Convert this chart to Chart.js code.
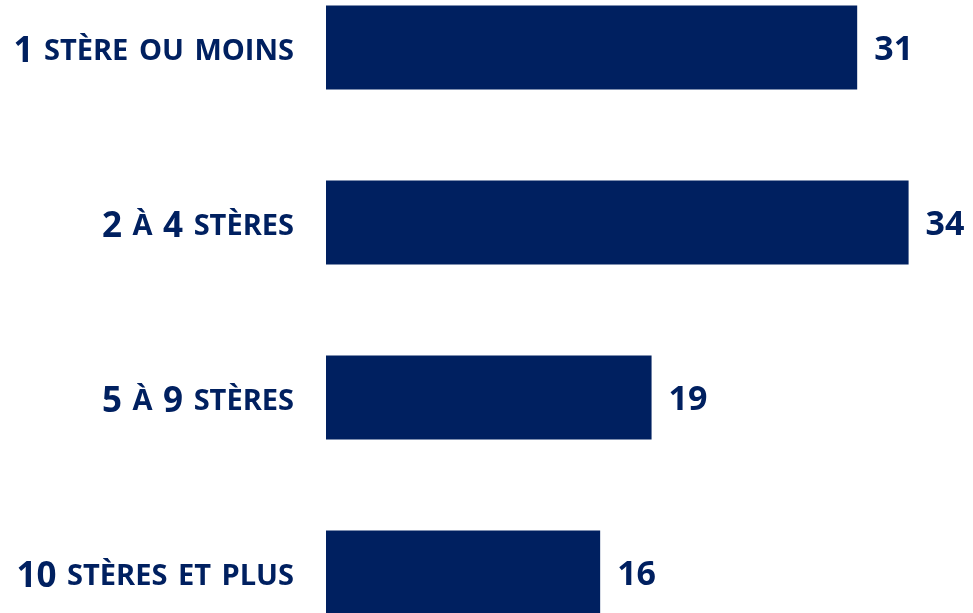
<!DOCTYPE html>
<html lang="fr">
<head>
<meta charset="utf-8">
<title>Volume de bois</title>
<script src="https://cdn.jsdelivr.net/npm/chart.js@4.4.1/dist/chart.umd.min.js"></script>
<style>
    html, body { margin: 0; padding: 0; background: #ffffff; }
    #frame { position: relative; width: 973px; height: 613px; overflow: hidden; }
    #wrap { position: absolute; left: 0; top: -40px; width: 973px; height: 700px; }
</style>
</head>
<body>
<div id="frame"><div id="wrap"><canvas id="volumeChart"></canvas></div></div>
<script>
const categories = ['1 STÈRE OU MOINS', '2 À 4 STÈRES', '5 À 9 STÈRES', '10 STÈRES ET PLUS'];
const values = [31, 34, 19, 16];

const navy = '#002060';
const fontFamily = '"Open Sans", "Noto Sans", sans-serif';

// cap height of Open Sans, used to center caps/digits on the bar
const capRatio = 0.714;

// left labels: numbers big, words small, right aligned before the bars
const categoryLabels = {
    id: 'categoryLabels',
    afterDraw(chart) {
        const ctx = chart.ctx;
        const yScale = chart.scales.y;
        const right = chart.chartArea.left - 32;
        ctx.save();
        ctx.fillStyle = navy;
        ctx.textAlign = 'left';
        ctx.textBaseline = 'alphabetic';
        ctx.font = 'bold 29px ' + fontFamily;
        const gap = ctx.measureText(' ').width + 3;
        chart.data.labels.forEach((label, i) => {
            const cy = yScale.getPixelForTick(i) + 2;
            const parts = label.split(' ').map(word => {
                const size = /^\d+$/.test(word) ? 35 : 29;
                ctx.font = 'bold ' + size + 'px ' + fontFamily;
                return { word: word, size: size, width: ctx.measureText(word).width };
            });
            let total = parts.reduce((sum, p) => sum + p.width, 0) + gap * (parts.length - 1);
            let x = right - total;
            parts.forEach(p => {
                ctx.font = 'bold ' + p.size + 'px ' + fontFamily;
                ctx.fillText(p.word, x, cy + p.size * capRatio / 2);
                x += p.width + gap;
            });
        });
        ctx.restore();
    }
};

// value shown just after the end of each bar
const valueLabels = {
    id: 'valueLabels',
    afterDatasetsDraw(chart) {
        const ctx = chart.ctx;
        const meta = chart.getDatasetMeta(0);
        const size = 34;
        ctx.save();
        ctx.fillStyle = navy;
        ctx.font = 'bold ' + size + 'px ' + fontFamily;
        ctx.textAlign = 'left';
        ctx.textBaseline = 'alphabetic';
        meta.data.forEach((bar, i) => {
            ctx.fillText(String(chart.data.datasets[0].data[i]), bar.x + 17, bar.y + size * capRatio / 2);
        });
        ctx.restore();
    }
};

function drawVolumeChart() {
    const ctx = document.getElementById('volumeChart').getContext('2d');
    new Chart(ctx, {
        type: 'bar',
        data: {
            labels: categories,
            datasets: [{
                data: values,
                backgroundColor: navy,
                borderWidth: 0,
                barPercentage: 0.48,
                categoryPercentage: 1.0
            }]
        },
        options: {
            indexAxis: 'y',
            responsive: true,
            maintainAspectRatio: false,
            animation: false,
            layout: { padding: { left: 326, right: 13, top: 0, bottom: 0 } },
            plugins: {
                legend: { display: false },
                tooltip: { enabled: false }
            },
            scales: {
                x: { display: false, min: 0, max: 37 },
                y: { display: false, offset: true }
            }
        },
        plugins: [categoryLabels, valueLabels]
    });
}

document.addEventListener('DOMContentLoaded', drawVolumeChart);
</script>
</body>
</html>
